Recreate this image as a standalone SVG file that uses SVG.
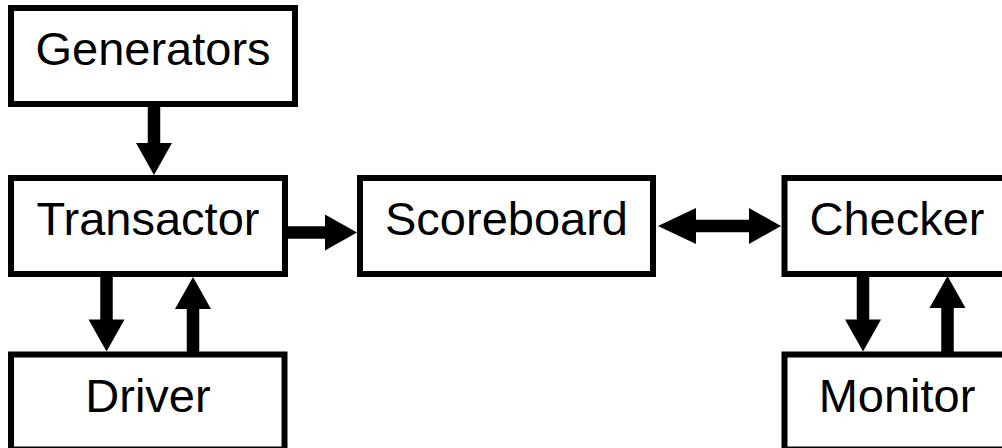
<svg xmlns="http://www.w3.org/2000/svg" width="1002" height="448" viewBox="0 0 1002 448">
  <style>
    .box { fill: #ffffff; stroke: #000000; stroke-width: 6; }
    .label { font-family: "Liberation Sans", Arial, sans-serif; font-size: 47px; fill: #000000; text-anchor: middle; }
    .wire { stroke: #000000; stroke-width: 12.5; fill: none; marker-end: url(#head); }
    .wire2 { marker-start: url(#headLong); }
  </style>
  <defs>
    <marker id="head" markerUnits="userSpaceOnUse" markerWidth="34" markerHeight="38" viewBox="0 0 34 38" refX="3" refY="19" orient="auto-start-reverse">
      <path d="M1,1 L33,19 L1,37 Z" fill="#000000"/>
    </marker>
    <marker id="headLong" markerUnits="userSpaceOnUse" markerWidth="40" markerHeight="38" viewBox="0 0 40 38" refX="3" refY="19" orient="auto-start-reverse">
      <path d="M1,1 L39,19 L1,37 Z" fill="#000000"/>
    </marker>
  </defs>

  <rect width="1002" height="448" fill="#ffffff"/>

  <!-- connectors -->
  <g id="connectors">
    <line class="wire" x1="154" y1="106" x2="154" y2="145"/>
    <line class="wire" x1="287" y1="232.5" x2="327" y2="232.5"/>
    <line class="wire wire2" x1="694" y1="226" x2="751" y2="226"/>
    <line class="wire" x1="106.5" y1="276" x2="106.5" y2="321.5"/>
    <line class="wire" x1="193" y1="353" x2="193" y2="307"/>
    <line class="wire" x1="863" y1="276" x2="863" y2="321.5"/>
    <line class="wire" x1="947.5" y1="353" x2="947.5" y2="306"/>
  </g>

  <g id="generators">
    <rect class="box" x="11" y="8" width="284" height="96"/>
    <text class="label" x="153" y="65">Generators</text>
  </g>
  <g id="transactor">
    <rect class="box" x="11" y="178" width="274" height="96"/>
    <text class="label" x="148" y="235">Transactor</text>
  </g>
  <g id="scoreboard">
    <rect class="box" x="360" y="178" width="293" height="96"/>
    <text class="label" x="506.5" y="235">Scoreboard</text>
  </g>
  <g id="checker">
    <rect class="box" x="784.5" y="178" width="226" height="96"/>
    <text class="label" x="897" y="235">Checker</text>
  </g>
  <g id="driver">
    <rect class="box" x="11" y="354.5" width="273.5" height="95"/>
    <text class="label" x="148" y="411.5">Driver</text>
  </g>
  <g id="monitor">
    <rect class="box" x="784.5" y="354.5" width="226" height="95"/>
    <text class="label" x="897" y="411.5">Monitor</text>
  </g>
</svg>
